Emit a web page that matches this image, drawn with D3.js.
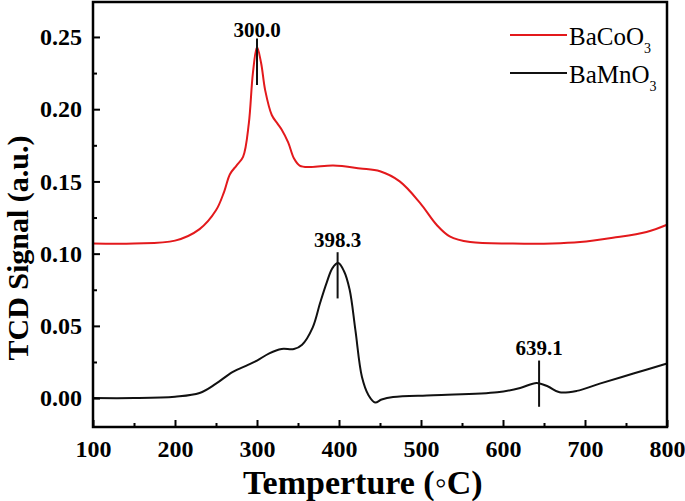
<!DOCTYPE html>
<html>
<head>
<meta charset="utf-8">
<script src="https://cdn.jsdelivr.net/npm/d3@7"></script>
<style>
  body { margin: 0; background: #fff; }
  text { font-family: "Liberation Serif", "Times New Roman", serif; }
</style>
</head>
<body>
<script>
// BaCoO3 TCD signal, [temperature, signal]
var coTemp = [100, 150, 200, 230, 250, 260, 267, 275, 283, 290, 295, 300, 305, 310, 318, 325, 330, 338, 345, 352, 365, 393, 426, 450, 474, 499, 519, 535, 560, 612, 660, 694, 734, 775, 800]
var coSignal = [0.107, 0.107, 0.109, 0.117, 0.130, 0.143, 0.155, 0.161, 0.167, 0.190, 0.225, 0.243, 0.232, 0.213, 0.196, 0.190, 0.186, 0.177, 0.166, 0.161, 0.160, 0.161, 0.159, 0.157, 0.150, 0.135, 0.120, 0.112, 0.108, 0.107, 0.107, 0.108, 0.111, 0.115, 0.120]

// BaMnO3
var mnTemp = [100, 150, 200, 230, 250, 270, 289, 300, 315, 330, 345, 355, 368, 377, 385, 392, 399, 406, 413, 420, 428, 436, 444, 452, 466, 515, 593, 621, 641, 655, 669, 690, 718, 759, 800]
var mnSignal = [0.000, 0.000, 0.001, 0.0035, 0.010, 0.018, 0.023, 0.026, 0.031, 0.034, 0.034, 0.037, 0.049, 0.066, 0.080, 0.090, 0.0935, 0.088, 0.075, 0.047, 0.0146, 0.002, -0.003, -0.001, 0.0007, 0.002, 0.004, 0.007, 0.0105, 0.008, 0.004, 0.005, 0.010, 0.017, 0.024]

var seriesNames = ['BaCoO', 'BaMnO']
var seriesColors = ['#e3191c', '#111']

// peak labels: text, marker temperature, marker bottom/top, label baseline
var peakLabels = ['300.0', '398.3', '639.1']
var peakTemp = [300, 398.3, 644]
var peakLow = [0.2168, 0.069, -0.006]
var peakHigh = [0.249, 0.101, 0.026]
var peakText = [0.250, 0.1046, 0.0298]

var xTicks = [100, 200, 300, 400, 500, 600, 700, 800]
var yTicks = [0, 0.05, 0.10, 0.15, 0.20, 0.25]

var W = 685, H = 501
var margin = {left: 93, right: 18, top: 2, bottom: 74}
var width = W - margin.left - margin.right
var height = H - margin.top - margin.bottom

var svg = d3.select('body').append('svg').attr('width', W).attr('height', H)
var g = svg.append('g').attr('transform', 'translate(' + margin.left + ',' + margin.top + ')')

var x = d3.scaleLinear().domain([100, 800]).range([0, width])
var y = d3.scaleLinear().domain([-0.02, 0.2742]).range([height, 0])

var line = d3.line()
  .x(function(d){ return x(d[0]) })
  .y(function(d){ return y(d[1]) })
  .curve(d3.curveCatmullRom.alpha(0.5))

var series = [
  d3.zip(coTemp, coSignal),
  d3.zip(mnTemp, mnSignal)
]

series.forEach(function(s, i){
  g.append('path')
    .attr('d', line(s))
    .attr('fill', 'none')
    .attr('stroke', seriesColors[i])
    .attr('stroke-width', 2)
})

// axes, ticks pointing inward
var xMinor = d3.range(150, 800, 100)
var yMinor = d3.range(0.025, 0.27, 0.05)

g.append('g').attr('transform', 'translate(0,' + height + ')')
  .call(d3.axisBottom(x).tickValues(xMinor).tickSize(-4).tickFormat(''))
g.append('g').attr('transform', 'translate(0,' + height + ')')
  .call(d3.axisBottom(x).tickValues(xTicks).tickSizeInner(-7).tickSizeOuter(0).tickPadding(13).tickFormat(d3.format('d')))
g.append('g')
  .call(d3.axisLeft(y).tickValues(yMinor).tickSize(-4).tickFormat(''))
g.append('g')
  .call(d3.axisLeft(y).tickValues(yTicks).tickSizeInner(-7).tickSizeOuter(0).tickPadding(11).tickFormat(d3.format('.2f')))

g.selectAll('.domain').remove()
g.selectAll('.tick line').attr('stroke', '#000').attr('stroke-width', 2)
g.selectAll('.tick text')
  .attr('font-family', '"Liberation Serif", serif')
  .attr('font-weight', 'bold')
  .attr('font-size', 24)
  .attr('fill', '#000')

g.append('rect')
  .attr('width', width).attr('height', height)
  .attr('fill', 'none').attr('stroke', '#000').attr('stroke-width', 2.5)

// peak markers
peakLabels.forEach(function(t, i){
  g.append('line')
    .attr('x1', x(peakTemp[i])).attr('x2', x(peakTemp[i]))
    .attr('y1', y(peakLow[i])).attr('y2', y(peakHigh[i]))
    .attr('stroke', '#111').attr('stroke-width', 2)
  g.append('text')
    .attr('x', x(peakTemp[i])).attr('y', y(peakText[i]))
    .attr('text-anchor', 'middle')
    .attr('font-weight', 'bold').attr('font-size', 21)
    .text(t)
})

// legend
var leg = svg.append('g').attr('transform', 'translate(510,35)')
seriesNames.forEach(function(n, i){
  var row = leg.append('g').attr('transform', 'translate(0,' + (i * 38) + ')')
  row.append('line').attr('x1', 0).attr('x2', 57)
    .attr('stroke', seriesColors[i]).attr('stroke-width', 2)
  var t = row.append('text').attr('x', 59).attr('y', 10).attr('font-size', 25)
  t.append('tspan').text(n)
  t.append('tspan').attr('font-size', 14).attr('dy', 8).text('3')
})

// axis titles
svg.append('text')
  .attr('x', 243).attr('y', 494)
  .attr('font-weight', 'bold').attr('font-size', 34)
  .text('Temperture  (◦C)')

svg.append('text')
  .attr('transform', 'translate(28,' + 248 + ') rotate(-90)')
  .attr('text-anchor', 'middle')
  .attr('font-weight', 'bold').attr('font-size', 30)
  .text('TCD Signal (a.u.)')
</script>
</body>
</html>
